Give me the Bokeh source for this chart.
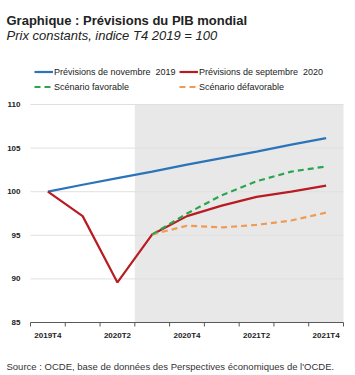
import math
from bokeh.plotting import figure
from bokeh.models import Legend, LegendItem, BoxAnnotation, Range1d, Label
from bokeh.core.properties import value
from bokeh.embed import file_html
from bokeh.resources import INLINE

# ---- data ----
quarters = ["2019T4", "2020T1", "2020T2", "2020T3", "2020T4",
            "2021T1", "2021T2", "2021T3", "2021T4"]
labelled_quarters = ["2019T4", "2020T2", "2020T4", "2021T2", "2021T4"]
nov2019 = [100.0, 100.8, 101.55, 102.3, 103.1, 103.85, 104.6, 105.4, 106.15]
sep2020 = [100.0, 97.2, 89.6, 95.1, 97.2, 98.4, 99.4, 100.0, 100.7]
fav_quarters = ["2020T3", "2020T4", "2021T1", "2021T2", "2021T3", "2021T4"]
favorable = [95.1, 97.5, 99.6, 101.2, 102.3, 102.9]
unfavorable = [95.1, 96.1, 95.9, 96.2, 96.7, 97.6]
y_ticks = [85, 90, 95, 100, 105, 110]
shade_from = "2020T3"

idx = {q: i for i, q in enumerate(quarters)}
xs = [idx[q] for q in quarters]
xs_fav = [idx[q] for q in fav_quarters]
x_label_pos = [idx[q] for q in labelled_quarters]

BLUE = "#2b74b9"
RED = "#b81c22"
GREEN = "#2aa64e"
ORANGE = "#f09a52"
AXIS = "#595959"
FONT = "Liberation Sans"
DARK = "#222222"

# ---- layout (pixels) ----
W, H = 355, 375
AREA_LEFT, AREA_RIGHT, AREA_TOP, AREA_BOTTOM = 30, 343, 104, 322
x_lo, x_hi = -0.5, len(quarters) - 0.5
px_x = (AREA_RIGHT - AREA_LEFT) / (x_hi - x_lo)
y_lo, y_hi = y_ticks[0], y_ticks[-1]
px_y = (AREA_BOTTOM - AREA_TOP) / (y_hi - y_lo)

p = figure(width=W, height=H, output_backend="svg", toolbar_location=None,
           title_location=None, x_axis_location=None, y_axis_location=None,
           x_range=Range1d(x_lo - AREA_LEFT / px_x, x_hi + (W - AREA_RIGHT) / px_x),
           y_range=Range1d(y_lo - (H - AREA_BOTTOM) / px_y, y_hi + AREA_TOP / px_y),
           min_border=0, outline_line_color=None, background_fill_color="white")
p.grid.visible = False

# shaded forecast period
shade = BoxAnnotation(left=idx[shade_from] - 0.5, right=x_hi, bottom=y_lo, top=y_hi,
                      fill_color="#e8e8e8", fill_alpha=1.0, line_color=None,
                      level="image")
p.add_layout(shade)

# horizontal grid lines
grid_y = y_ticks[1:]
p.segment(x0=[x_lo] * len(grid_y), x1=[x_hi] * len(grid_y), y0=grid_y, y1=grid_y,
          line_color="#e0e0e0", line_width=1, level="underlay")

# series
r_blue = p.line(xs, nov2019, line_color=BLUE, line_width=2.2)
r_red = p.line(xs, sep2020, line_color=RED, line_width=2.2)
r_orange = p.line(xs_fav, unfavorable, line_color=ORANGE, line_width=2.2,
                  line_dash="6 4")
r_green = p.line(xs_fav, favorable, line_color=GREEN, line_width=2.2,
                 line_dash="6 4")

# value axis labels
p.text(x=[x_lo] * len(y_ticks), y=y_ticks, text=[str(t) for t in y_ticks],
       x_offset=-10, text_align="right", text_baseline="middle",
       text_font=value(FONT), text_font_style="bold", text_font_size="8px",
       text_color=DARK)

# category axis: line, boundary ticks, labels
p.segment(x0=[x_lo], x1=[x_hi], y0=[y_lo], y1=[y_lo], line_color=AXIS, line_width=1)
bounds = [i - 0.5 for i in range(len(quarters) + 1)]
p.ray(x=bounds, y=[y_lo] * len(bounds), length=4, length_units="screen",
      angle=-math.pi / 2, line_color=AXIS, line_width=1)
p.text(x=x_label_pos, y=[y_lo] * len(x_label_pos), text=labelled_quarters,
       y_offset=8, text_align="center", text_baseline="top",
       text_font=value(FONT), text_font_style="bold", text_font_size="8px",
       text_color=DARK)

legend = Legend(items=[
    LegendItem(label="Prévisions de novembre  2019", renderers=[r_blue]),
    LegendItem(label="Prévisions de septembre  2020", renderers=[r_red]),
    LegendItem(label="Scénario favorable", renderers=[r_green]),
    LegendItem(label="Scénario défavorable", renderers=[r_orange]),
], location=(34, H - 94), orientation="horizontal", ncols=2,
    label_text_font=FONT, label_text_font_size="9px",
    label_text_color=DARK, label_width=125,
    glyph_width=19, glyph_height=15, label_height=15, label_standoff=1,
    spacing=0, padding=0, margin=0, border_line_color=None,
    background_fill_alpha=0)
p.add_layout(legend, "center")

p.add_layout(Label(x=6, y=H - 20, x_units="screen", y_units="screen",
                   text="Graphique : Prévisions du PIB mondial",
                   text_font=FONT, text_font_style="bold", text_baseline="alphabetic",
                   text_font_size="13px", text_color=DARK))
p.add_layout(Label(x=6, y=H - 35, x_units="screen", y_units="screen",
                   text="Prix constants, indice T4 2019 = 100",
                   text_font=FONT, text_font_style="italic", text_baseline="alphabetic",
                   text_font_size="13px", text_color=DARK))
p.add_layout(Label(x=6, y=H - 366, x_units="screen", y_units="screen",
                   text="Source : OCDE, base de données des Perspectives économiques de l'OCDE.",
                   text_font=FONT, text_font_style="normal", text_baseline="alphabetic",
                   text_font_size="9.5px", text_color="#333333"))

open("out.html", "w").write(file_html(p, INLINE))
